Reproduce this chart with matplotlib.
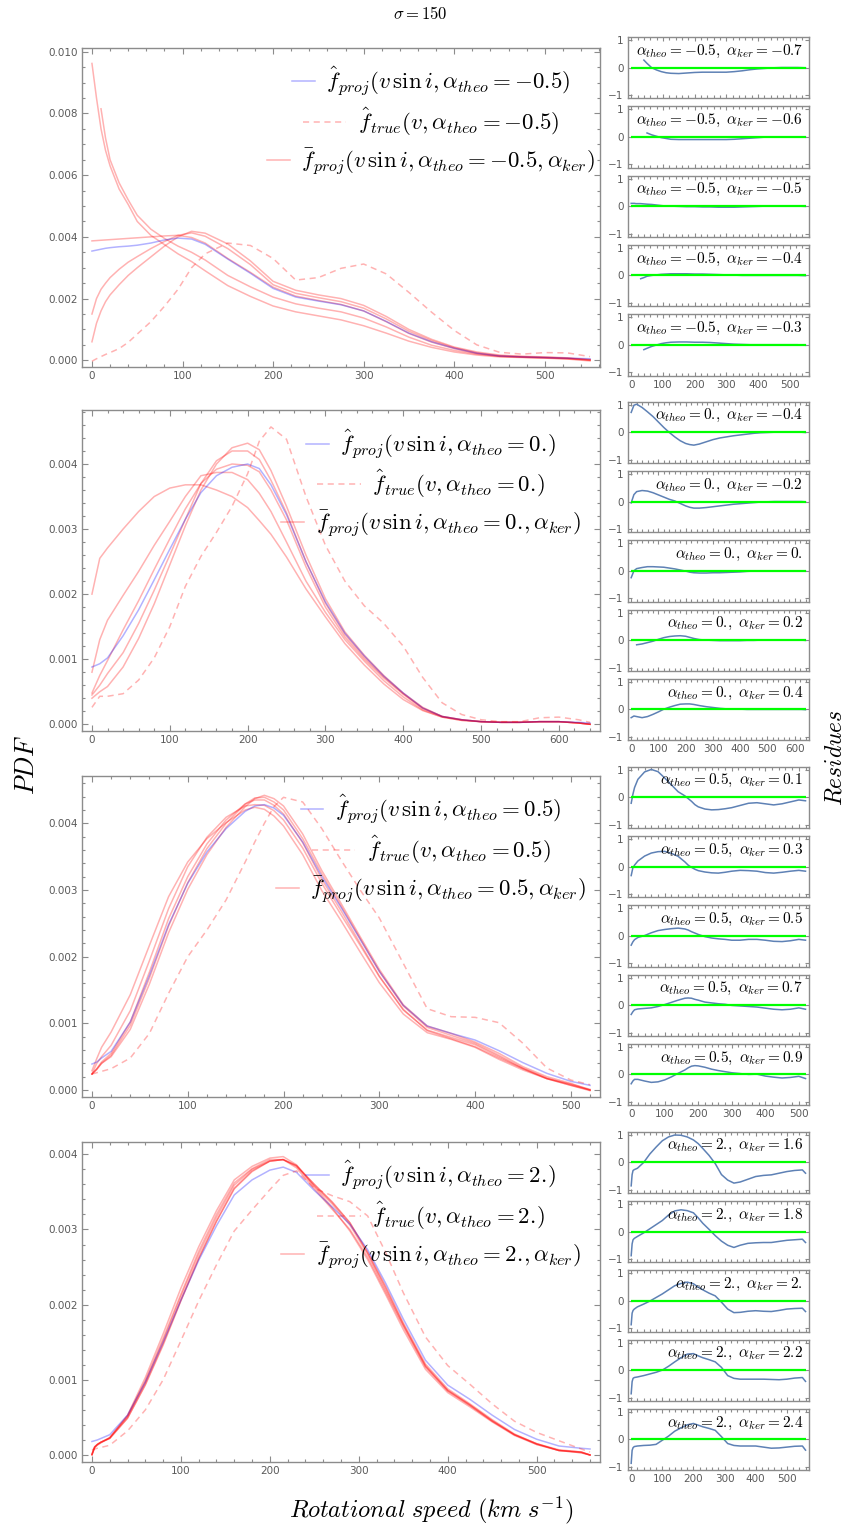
import numpy as np
import matplotlib
matplotlib.use('Agg')
import matplotlib.pyplot as plt
from matplotlib.legend import Legend
from matplotlib.ticker import MultipleLocator, FormatStrFormatter

plt.rcParams['mathtext.fontset'] = 'cm'
plt.rcParams['font.family'] = 'DejaVu Sans'

nan = np.nan

# ---------------- data (PDF values in units of 1e-3) ----------------
# sigma = 150, alpha_theo = -0.5
x1 = [0, 5, 10, 15, 20, 30, 40, 50, 65, 80, 95, 110, 125, 150, 175, 200, 225, 250, 275, 300,
      325, 350, 375, 400, 425, 450, 475, 500, 525, 550]
proj1 = [3.54, 3.57, 3.6, 3.63, 3.65, 3.68, 3.7, 3.73, 3.8, 3.9, 3.96, 3.93, 3.76, 3.28, 2.82, 2.33,
         2.05, 1.92, 1.8, 1.6, 1.26, 0.88, 0.6, 0.39, 0.23, 0.14, 0.11, 0.09, 0.07, 0.05]
true1 = [-0.03, 0.05, 0.12, 0.19, 0.25, 0.38, 0.58, 0.85, 1.25, 1.75, 2.3, 3.0, 3.45, 3.8, 3.72, 3.3,
         2.6, 2.68, 2.98, 3.12, 2.8, 2.2, 1.56, 0.97, 0.5, 0.26, 0.2, 0.25, 0.24, 0.12]
ker1 = [
    [9.62, 8.5, 7.5, 6.8, 6.3, 5.55, 5.05, 4.5, 4.05, 3.75, 3.45, 3.2, 2.9, 2.42, 2.07, 1.76,
     1.57, 1.44, 1.31, 1.12, 0.88, 0.62, 0.42, 0.27, 0.17, 0.11, 0.09, 0.07, 0.04, -0.02],
    [nan, nan, 8.15, 7.2, 6.5, 5.75, 5.2, 4.7, 4.25, 3.95, 3.7, 3.5, 3.25, 2.75, 2.38, 2.05,
     1.83, 1.69, 1.57, 1.37, 1.08, 0.75, 0.49, 0.32, 0.2, 0.13, 0.1, 0.08, 0.05, 0.0],
    [3.87, 3.88, 3.89, 3.9, 3.91, 3.93, 3.95, 3.97, 4.0, 4.03, 4.05, 3.98, 3.8, 3.3, 2.85, 2.37,
     2.08, 1.94, 1.81, 1.6, 1.25, 0.87, 0.59, 0.38, 0.22, 0.13, 0.1, 0.08, 0.06, 0.02],
    [1.5, 2.0, 2.3, 2.5, 2.68, 2.95, 3.18, 3.36, 3.62, 3.85, 4.05, 4.13, 4.02, 3.62, 3.1, 2.45,
     2.17, 2.03, 1.9, 1.69, 1.34, 0.94, 0.64, 0.41, 0.24, 0.15, 0.12, 0.1, 0.07, 0.01],
    [0.6, 1.2, 1.6, 1.9, 2.12, 2.45, 2.75, 3.0, 3.35, 3.7, 4.0, 4.18, 4.12, 3.77, 3.22, 2.56,
     2.27, 2.12, 2.0, 1.78, 1.42, 1.0, 0.68, 0.43, 0.27, 0.17, 0.13, 0.11, 0.08, 0.02],
]
res1 = [
    [nan, nan, nan, nan, nan, nan, 0.27, 0.15, -0.01, -0.09, -0.15, -0.19, -0.21, -0.22, -0.2, -0.18,
     -0.17, -0.17, -0.17, -0.17, -0.15, -0.12, -0.08, -0.05, -0.03, -0.01, 0.0, 0.0, 0.0, -0.01],
    [nan, nan, nan, nan, nan, nan, nan, 0.14, 0.07, 0.02, -0.03, -0.06, -0.09, -0.1, -0.1, -0.1,
     -0.1, -0.1, -0.1, -0.1, -0.09, -0.07, -0.05, -0.03, -0.01, 0.0, 0.0, 0.0, 0.0, -0.01],
    [0.1, 0.1, 0.1, 0.09, 0.09, 0.09, 0.08, 0.07, 0.06, 0.04, 0.02, 0.0, 0.0, -0.01, -0.02, -0.02,
     -0.03, -0.03, -0.04, -0.04, -0.04, -0.03, -0.02, -0.01, 0.0, 0.0, 0.0, 0.0, 0.0, -0.01],
    [nan, nan, nan, nan, nan, -0.12, -0.08, -0.03, 0.0, 0.02, 0.04, 0.05, 0.06, 0.06, 0.06, 0.05,
     0.05, 0.04, 0.03, 0.02, 0.01, 0.0, 0.0, 0.0, 0.0, 0.0, 0.0, 0.0, 0.0, -0.01],
    [nan, nan, nan, nan, nan, nan, -0.18, -0.13, -0.06, -0.01, 0.04, 0.07, 0.09, 0.1, 0.1, 0.09,
     0.09, 0.08, 0.06, 0.04, 0.02, 0.01, 0.0, 0.0, 0.0, 0.0, 0.0, 0.0, 0.0, -0.02],
]
kers1 = ['-0.7', '-0.6', '-0.5', '-0.4', '-0.3']

# alpha_theo = 0.
x2 = [0, 10, 20, 40, 60, 80, 100, 120, 140, 160, 180, 200, 215, 230, 250, 275, 300, 325, 350, 375,
      400, 425, 450, 475, 500, 525, 550, 575, 600, 625, 640]
proj2 = [0.88, 0.93, 1.02, 1.36, 1.76, 2.22, 2.69, 3.15, 3.56, 3.82, 3.95, 4.0, 3.93, 3.68, 3.22, 2.5,
         1.88, 1.4, 1.05, 0.74, 0.48, 0.25, 0.12, 0.07, 0.04, 0.03, 0.03, 0.04, 0.04, 0.03, 0.02]
true2 = [0.26, 0.43, 0.43, 0.47, 0.68, 1.02, 1.5, 2.12, 2.58, 2.95, 3.35, 3.85, 4.35, 4.57, 4.38, 3.5,
         2.75, 2.2, 1.82, 1.55, 1.2, 0.72, 0.33, 0.15, 0.07, 0.04, 0.04, 0.1, 0.11, 0.07, 0.03]
ker2 = [
    [2.0, 2.55, 2.71, 3.0, 3.27, 3.5, 3.63, 3.68, 3.68, 3.6, 3.5, 3.33, 3.13, 2.92, 2.57, 2.08,
     1.65, 1.24, 0.91, 0.62, 0.38, 0.21, 0.11, 0.06, 0.04, 0.03, 0.03, 0.04, 0.04, 0.02, 0.0],
    [0.8, 1.3, 1.6, 1.98, 2.35, 2.75, 3.12, 3.5, 3.82, 3.87, 3.87, 3.76, 3.55, 3.27, 2.8, 2.2,
     1.72, 1.3, 0.97, 0.67, 0.42, 0.22, 0.11, 0.06, 0.04, 0.03, 0.03, 0.04, 0.04, 0.02, 0.0],
    [0.48, 0.75, 0.98, 1.45, 1.9, 2.38, 2.85, 3.31, 3.7, 3.92, 4.0, 3.98, 3.88, 3.6, 3.14, 2.42,
     1.8, 1.34, 1.0, 0.71, 0.46, 0.24, 0.12, 0.07, 0.04, 0.03, 0.03, 0.04, 0.04, 0.02, 0.0],
    [0.45, 0.6, 0.78, 1.1, 1.55, 2.06, 2.6, 3.15, 3.7, 4.05, 4.2, 4.2, 4.07, 3.75, 3.25, 2.5,
     1.86, 1.38, 1.03, 0.73, 0.47, 0.25, 0.12, 0.07, 0.04, 0.03, 0.03, 0.04, 0.04, 0.02, 0.0],
    [0.4, 0.5, 0.58, 0.88, 1.32, 1.85, 2.45, 3.05, 3.6, 4.0, 4.25, 4.32, 4.22, 3.9, 3.35, 2.6,
     1.93, 1.42, 1.06, 0.75, 0.48, 0.26, 0.12, 0.07, 0.04, 0.03, 0.03, 0.04, 0.04, 0.02, 0.0],
]
res2 = [
    [0.72, 0.98, 1.02, 0.9, 0.74, 0.57, 0.37, 0.17, -0.01, -0.17, -0.31, -0.41, -0.45, -0.47, -0.43, -0.35,
     -0.27, -0.21, -0.17, -0.13, -0.1, -0.07, -0.04, -0.02, -0.01, 0.0, 0.0, 0.0, 0.0, 0.0, -0.01],
    [-0.05, 0.25, 0.36, 0.4, 0.38, 0.32, 0.24, 0.16, 0.08, 0.02, -0.07, -0.16, -0.21, -0.24, -0.24, -0.22,
     -0.19, -0.16, -0.13, -0.1, -0.08, -0.06, -0.04, -0.02, -0.01, 0.0, 0.0, 0.0, 0.0, 0.0, -0.01],
    [-0.25, 0.0, 0.08, 0.12, 0.15, 0.15, 0.14, 0.13, 0.1, 0.07, 0.03, -0.01, -0.05, -0.07, -0.08, -0.08,
     -0.07, -0.07, -0.06, -0.05, -0.04, -0.02, -0.01, 0.0, 0.0, 0.0, 0.0, 0.0, 0.0, 0.0, -0.01],
    [nan, nan, -0.17, -0.14, -0.09, -0.04, 0.03, 0.09, 0.13, 0.15, 0.16, 0.14, 0.1, 0.06, 0.02, 0.0,
     -0.01, -0.02, -0.02, -0.02, -0.02, -0.01, -0.01, 0.0, 0.0, 0.0, 0.0, 0.0, 0.0, 0.0, -0.01],
    [-0.3, -0.24, -0.26, -0.3, -0.26, -0.18, -0.09, 0.01, 0.08, 0.14, 0.19, 0.2, 0.2, 0.18, 0.14, 0.1,
     0.07, 0.04, 0.02, 0.01, 0.01, 0.0, 0.0, 0.0, 0.0, 0.0, 0.0, 0.0, 0.0, 0.0, -0.01],
]
kers2 = ['-0.4', '-0.2', '0.', '0.2', '0.4']

# alpha_theo = 0.5
x3 = [0, 5, 10, 20, 40, 60, 80, 100, 120, 140, 160, 170, 180, 190, 200, 220, 240, 260, 280, 300,
      325, 350, 375, 400, 425, 450, 475, 500, 520]
proj3 = [0.39, 0.42, 0.48, 0.58, 1.02, 1.72, 2.48, 3.1, 3.57, 3.92, 4.18, 4.26, 4.28, 4.23, 4.12, 3.72,
         3.2, 2.74, 2.26, 1.78, 1.27, 0.96, 0.85, 0.75, 0.59, 0.41, 0.25, 0.13, 0.07]
true3 = [0.24, 0.26, 0.28, 0.32, 0.48, 0.85, 1.45, 2.0, 2.4, 2.85, 3.42, 3.72, 4.0, 4.25, 4.39, 4.32,
         3.92, 3.45, 3.0, 2.58, 1.9, 1.22, 1.1, 1.09, 1.01, 0.7, 0.33, 0.15, 0.08]
ker3 = [
    [0.29, 0.47, 0.64, 0.87, 1.43, 2.17, 2.9, 3.42, 3.77, 4.01, 4.2, 4.24, 4.21, 4.11, 3.96, 3.53,
     2.99, 2.54, 2.07, 1.61, 1.14, 0.86, 0.76, 0.64, 0.46, 0.3, 0.17, 0.09, 0.01],
    [0.24, 0.4, 0.5, 0.67, 1.19, 1.94, 2.72, 3.35, 3.79, 4.09, 4.26, 4.28, 4.27, 4.19, 4.05, 3.63,
     3.1, 2.63, 2.17, 1.7, 1.21, 0.89, 0.77, 0.65, 0.48, 0.32, 0.17, 0.07, -0.01],
    [0.24, 0.32, 0.42, 0.55, 1.02, 1.77, 2.57, 3.2, 3.69, 4.05, 4.29, 4.35, 4.35, 4.27, 4.14, 3.71,
     3.16, 2.69, 2.2, 1.71, 1.2, 0.9, 0.79, 0.68, 0.5, 0.32, 0.17, 0.07, 0.0],
    [0.24, 0.31, 0.4, 0.52, 0.97, 1.68, 2.46, 3.11, 3.62, 4.0, 4.29, 4.38, 4.39, 4.32, 4.2, 3.77,
     3.24, 2.76, 2.27, 1.78, 1.26, 0.94, 0.82, 0.7, 0.52, 0.33, 0.18, 0.08, 0.0],
    [0.24, 0.31, 0.4, 0.5, 0.91, 1.59, 2.36, 3.01, 3.53, 3.94, 4.25, 4.37, 4.42, 4.37, 4.26, 3.84,
     3.29, 2.8, 2.3, 1.81, 1.28, 0.96, 0.85, 0.72, 0.55, 0.35, 0.2, 0.1, 0.0],
]
res3 = [
    [-0.22, 0.1, 0.35, 0.65, 0.92, 1.01, 0.93, 0.7, 0.45, 0.2, 0.05, -0.05, -0.15, -0.27, -0.35, -0.43,
     -0.46, -0.45, -0.42, -0.38, -0.3, -0.22, -0.2, -0.24, -0.28, -0.24, -0.17, -0.1, -0.13],
    [-0.33, -0.05, 0.05, 0.2, 0.38, 0.49, 0.54, 0.55, 0.48, 0.37, 0.17, 0.05, -0.03, -0.1, -0.15, -0.2,
     -0.23, -0.24, -0.21, -0.17, -0.14, -0.15, -0.17, -0.22, -0.24, -0.21, -0.17, -0.14, -0.17],
    [-0.34, -0.22, -0.14, -0.06, 0.01, 0.11, 0.19, 0.23, 0.26, 0.28, 0.25, 0.21, 0.15, 0.1, 0.05, -0.03,
     -0.08, -0.11, -0.13, -0.16, -0.16, -0.13, -0.13, -0.16, -0.2, -0.21, -0.18, -0.13, -0.16],
    [-0.34, -0.24, -0.17, -0.14, -0.12, -0.1, -0.05, 0.02, 0.1, 0.18, 0.25, 0.26, 0.25, 0.21, 0.18, 0.11,
     0.08, 0.05, 0.03, -0.01, -0.03, -0.05, -0.07, -0.11, -0.15, -0.17, -0.15, -0.1, -0.15],
    [-0.34, -0.24, -0.18, -0.18, -0.24, -0.29, -0.27, -0.2, -0.09, 0.04, 0.16, 0.24, 0.3, 0.32, 0.31, 0.26,
     0.19, 0.14, 0.1, 0.06, 0.03, 0.0, 0.01, -0.06, -0.1, -0.13, -0.11, -0.07, -0.15],
]
kers3 = ['0.1', '0.3', '0.5', '0.7', '0.9']

# alpha_theo = 2.
x4 = [0, 3, 6, 10, 20, 40, 60, 80, 100, 120, 140, 160, 180, 200, 215, 230, 250, 270, 290, 310,
      330, 350, 375, 400, 425, 450, 475, 500, 525, 550, 560]
proj4 = [0.18, 0.19, 0.2, 0.22, 0.27, 0.53, 0.97, 1.5, 2.06, 2.59, 3.05, 3.46, 3.66, 3.79, 3.83, 3.76,
         3.52, 3.3, 3.07, 2.73, 2.29, 1.81, 1.26, 0.93, 0.74, 0.53, 0.34, 0.21, 0.12, 0.09, 0.08]
true4 = [0.07, 0.08, 0.09, 0.1, 0.13, 0.32, 0.6, 1.0, 1.52, 2.05, 2.53, 2.98, 3.26, 3.53, 3.72, 3.78,
         3.55, 3.45, 3.37, 3.18, 2.7, 2.16, 1.57, 1.19, 0.94, 0.68, 0.45, 0.3, 0.19, 0.08, 0.04]
ker4 = [
    [0.01, 0.1, 0.14, 0.17, 0.23, 0.53, 1.03, 1.61, 2.22, 2.77, 3.25, 3.66, 3.84, 3.95, 3.97, 3.86,
     3.57, 3.29, 2.98, 2.6, 2.14, 1.67, 1.14, 0.83, 0.64, 0.44, 0.26, 0.14, 0.06, 0.03, 0.0],
    [0.0, 0.1, 0.14, 0.17, 0.23, 0.52, 0.99, 1.55, 2.14, 2.71, 3.2, 3.62, 3.81, 3.93, 3.93, 3.82,
     3.54, 3.27, 3.0, 2.63, 2.17, 1.71, 1.17, 0.85, 0.66, 0.45, 0.27, 0.15, 0.06, 0.03, 0.0],
    [0.0, 0.1, 0.13, 0.16, 0.23, 0.51, 0.97, 1.52, 2.11, 2.67, 3.16, 3.59, 3.8, 3.91, 3.93, 3.84,
     3.58, 3.34, 3.06, 2.67, 2.2, 1.73, 1.18, 0.86, 0.66, 0.45, 0.27, 0.15, 0.06, 0.04, 0.0],
    [0.01, 0.11, 0.14, 0.17, 0.22, 0.49, 0.94, 1.48, 2.06, 2.62, 3.11, 3.55, 3.78, 3.91, 3.93, 3.85,
     3.6, 3.36, 3.09, 2.69, 2.23, 1.74, 1.19, 0.86, 0.67, 0.46, 0.27, 0.14, 0.06, 0.04, 0.0],
    [0.01, 0.11, 0.14, 0.17, 0.22, 0.49, 0.93, 1.46, 2.05, 2.61, 3.11, 3.54, 3.77, 3.91, 3.93, 3.85,
     3.6, 3.37, 3.09, 2.7, 2.25, 1.76, 1.21, 0.88, 0.68, 0.47, 0.28, 0.15, 0.07, 0.04, 0.0],
]
res4 = [
    [-0.86, -0.45, -0.3, -0.27, -0.22, -0.01, 0.3, 0.55, 0.78, 0.92, 0.99, 0.98, 0.92, 0.81, 0.68, 0.5,
     0.25, -0.05, -0.45, -0.65, -0.76, -0.72, -0.62, -0.52, -0.48, -0.46, -0.4, -0.34, -0.3, -0.28, -0.4],
    [-0.88, -0.45, -0.3, -0.25, -0.18, -0.05, 0.1, 0.25, 0.4, 0.6, 0.75, 0.79, 0.76, 0.68, 0.5, 0.3,
     0.08, -0.15, -0.35, -0.5, -0.58, -0.5, -0.43, -0.41, -0.4, -0.4, -0.36, -0.32, -0.3, -0.28, -0.4],
    [-0.87, -0.45, -0.35, -0.3, -0.22, -0.12, -0.01, 0.12, 0.25, 0.4, 0.55, 0.63, 0.68, 0.62, 0.5, 0.4,
     0.28, 0.18, -0.05, -0.3, -0.43, -0.42, -0.38, -0.36, -0.38, -0.39, -0.35, -0.3, -0.28, -0.27, -0.39],
    [-0.86, -0.42, -0.3, -0.27, -0.25, -0.2, -0.14, -0.08, 0.0, 0.14, 0.3, 0.45, 0.58, 0.6, 0.52, 0.45,
     0.38, 0.3, 0.1, -0.2, -0.3, -0.33, -0.33, -0.33, -0.33, -0.34, -0.35, -0.33, -0.29, -0.27, -0.41],
    [-0.87, -0.4, -0.3, -0.26, -0.24, -0.22, -0.21, -0.18, -0.03, 0.12, 0.3, 0.42, 0.53, 0.58, 0.52, 0.46,
     0.4, 0.33, 0.1, -0.15, -0.22, -0.24, -0.24, -0.24, -0.28, -0.32, -0.31, -0.28, -0.25, -0.24, -0.39],
]
kers4 = ['1.6', '1.8', '2.', '2.2', '2.4']

theo_labels = ['-0.5', '0.', '0.5', '2.']

# ---------------- layout / style ----------------
W, H = 847, 1527
RED = (1, 0, 0, 0.3)
BLUE = (0, 0, 1, 0.3)
RES_BLUE = '#5e81b5'
GREEN = '#00ff00'
FRAME = '#8c8c8c'
TICKTXT = '#5a5a5a'

fig = plt.figure(figsize=(W / 100, H / 100), dpi=100)


def axes_px(left, top, right, bottom):
    return fig.add_axes([left / W, 1 - bottom / H, (right - left) / W, (bottom - top) / H])


def tex_num(s):
    # a trailing "." would get punctuation spacing in mathtext; pull it back
    return s + r'\!' if s.endswith('.') else s


def frame_style(ax):
    for s in ax.spines.values():
        s.set_color(FRAME)
        s.set_linewidth(1.0)
    ax.tick_params(which='both', direction='in', top=True, right=True, color=FRAME,
                   labelcolor=TICKTXT, labelsize=7.5, width=0.8, pad=3)
    ax.tick_params(which='major', length=4)
    ax.tick_params(which='minor', length=2)


main_tops = [47.7, 410, 775.7, 1141.7]
main_bottoms = [367, 731.3, 1096.7, 1462]
main_ylims = [(-0.217, 10.13), (-0.108, 4.83), (-0.1, 4.714), (-0.093, 4.168)]
main_ymajor = [2, 1, 1, 1]
main_yminor = [0.5, 0.2, 0.2, 0.2]
res_group_tops = [37, 401.7, 766.7, 1131.7]

panels = [(x1, proj1, true1, ker1, res1, kers1),
          (x2, proj2, true2, ker2, res2, kers2),
          (x3, proj3, true3, ker3, res3, kers3),
          (x4, proj4, true4, ker4, res4, kers4)]

for p, (xs, proj, true, ker, res, kers) in enumerate(panels):
    xs = np.array(xs, dtype=float)
    xlim = (-0.02 * xs[-1], 1.02 * xs[-1])
    theo = tex_num(theo_labels[p])

    # main PDF panel
    ax = axes_px(82, main_tops[p], 600, main_bottoms[p])
    h_ker = None
    for curve in ker:
        ln, = ax.plot(xs, np.array(curve) * 1e-3, color=RED, lw=1.1)
        h_ker = h_ker or ln
    h_proj, = ax.plot(xs, np.array(proj) * 1e-3, color=BLUE, lw=1.1)
    h_true, = ax.plot(xs, np.array(true) * 1e-3, color=RED, lw=1.1, ls=(0, (4, 3)))
    ax.set_xlim(*xlim)
    lo, hi = main_ylims[p]
    ax.set_ylim(lo * 1e-3, hi * 1e-3)
    ax.xaxis.set_major_locator(MultipleLocator(100))
    ax.xaxis.set_minor_locator(MultipleLocator(20))
    ax.yaxis.set_major_locator(MultipleLocator(main_ymajor[p] * 1e-3))
    ax.yaxis.set_minor_locator(MultipleLocator(main_yminor[p] * 1e-3))
    ax.yaxis.set_major_formatter(FormatStrFormatter('%.3f'))
    frame_style(ax)

    # legend rows, each centred like the original
    labels = [r'$\hat{f}_{proj}(v\,\sin i, \alpha_{theo} = %s)$' % theo,
              r'$\hat{f}_{true}(v, \alpha_{theo} = %s)$' % theo,
              r'$\bar{f}_{proj}(v\,\sin i, \alpha_{theo} = %s, \alpha_{ker})$' % theo]
    for i, (h, lab, hl) in enumerate(zip([h_proj, h_true, h_ker], labels, [1.0, 1.9, 1.0])):
        cy = main_tops[p] + 34 + 40 * i
        leg = Legend(ax, [h], [lab], loc='center', bbox_to_anchor=(431 / W, 1 - cy / H),
                     bbox_transform=fig.transFigure, frameon=False, fontsize=16.5,
                     handlelength=hl, handletextpad=0.5, borderpad=0, borderaxespad=0)
        ax.add_artist(leg)

    # residual panels
    for k in range(5):
        top = res_group_tops[p] + 69.3 * k
        rax = axes_px(627.7, top, 809, top + 61.3)
        rax.plot(xs, res[k], color=RES_BLUE, lw=1.1)
        rax.hlines(0, xs[0], xs[-1], color=GREEN, lw=1.6)
        rax.set_xlim(*xlim)
        rax.set_ylim(-1.12, 1.11)
        rax.set_yticks([-1, 0, 1])
        rax.xaxis.set_major_locator(MultipleLocator(100))
        rax.xaxis.set_minor_locator(MultipleLocator(20))
        frame_style(rax)
        rax.tick_params(which='major', length=3)
        if k < 4:
            rax.tick_params(labelbottom=False)
        rax.text(0.967, 0.77, r'$\alpha_{theo} = %s,\ \alpha_{ker} = %s$' % (theo, kers[k]),
                 transform=rax.transAxes, ha='right', va='center', fontsize=11)

# figure texts
fig.text(420 / W, 1 - 14 / H, r'$\sigma = 150$', ha='center', va='center', fontsize=12)
fig.text(27 / W, 1 - 765 / H, r'$PDF$', rotation=90, ha='center', va='center', fontsize=19)
fig.text(834 / W, 1 - 758 / H, r'$Residues$', rotation=90, ha='center', va='center', fontsize=17)
fig.text(431 / W, 1 - 1510 / H, r'$Rotational\ speed\ (km\ s^{-1})$', ha='center', va='center',
         fontsize=17.5)

fig.savefig('out.png', dpi=100)
